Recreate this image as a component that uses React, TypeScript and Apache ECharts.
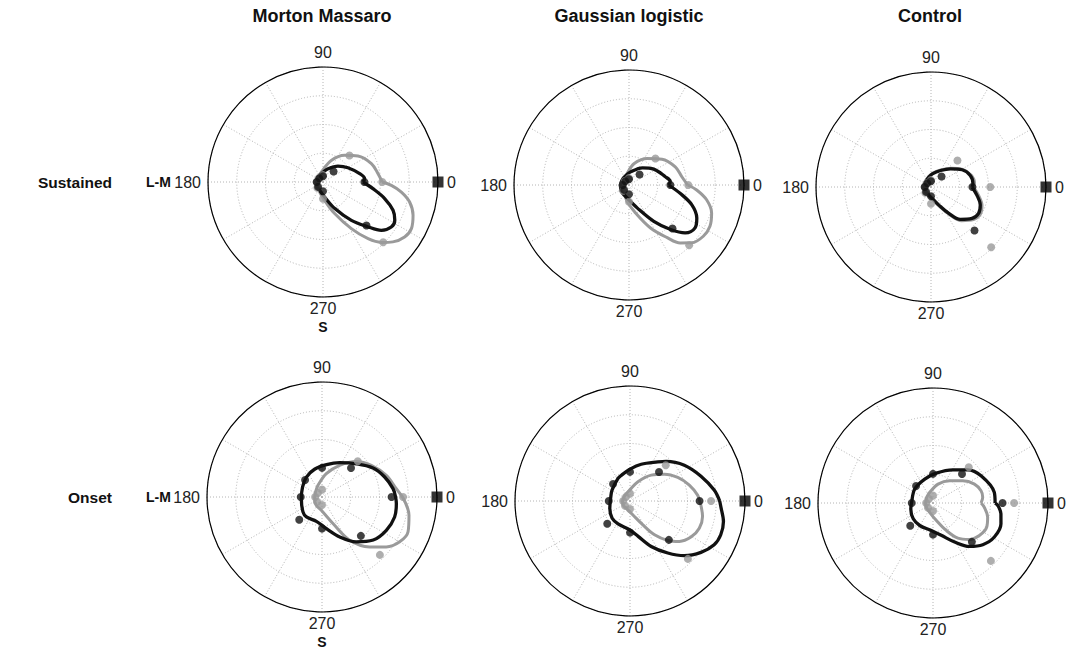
import React, { useEffect, useRef } from "react";
import * as echarts from "echarts";

// ---------- data ----------
const columnTitles = ["Morton Massaro", "Gaussian logistic", "Control"];
const rowTitles = ["Sustained", "Onset"];
const axisName = "L-M";
const axisName2 = "S";
const angleTickLabels = [0, 90, 180, 270];

const dotAngles = [0, 45, 90, 135, 180, 225, 270, 315];
const sustainedBlackDots = [0.36, 0.13, 0.05, 0.045, 0.055, 0.06, 0.08, 0.535];
const sustainedGrayDots = [0.515, 0.325, 0.06, 0.05, 0.055, 0.07, 0.145, 0.74];
const onsetBlackDots = [0.605, 0.357, 0.253, 0.208, 0.185, 0.28, 0.275, 0.478];
const onsetGrayDots = [0.705, 0.44, 0.065, 0.05, 0.06, 0.06, 0.07, 0.712];

// model curves: [angle (deg), radius]
const mmSustainedBlack = [[0, 0.348], [4.6, 0.363], [12.8, 0.327], [29.8, 0.25], [46.8, 0.19], [69, 0.124], [90, 0.085], [110, 0.07], [135, 0.062], [160, 0.06], [180, 0.06], [207, 0.065], [230, 0.07], [248, 0.078], [276, 0.131], [294, 0.253], [306.5, 0.415], [315, 0.55], [320.4, 0.659], [326.6, 0.711], [332, 0.707], [338, 0.657], [345, 0.555], [352.4, 0.438], [360, 0.348]];
const mmSustainedGray = [[0, 0.515], [8.6, 0.484], [20.8, 0.45], [36.6, 0.379], [51, 0.299], [69, 0.2], [99, 0.088], [125, 0.06], [146, 0.05], [180, 0.055], [210, 0.057], [251.6, 0.092], [275, 0.16], [290, 0.29], [301.3, 0.475], [308.5, 0.63], [314, 0.73], [319.4, 0.8], [326, 0.856], [332.2, 0.869], [339.7, 0.835], [347, 0.773], [352.7, 0.687], [357.2, 0.595], [360, 0.515]];
const glSustainedBlack = [[0, 0.345], [5, 0.36], [12.8, 0.324], [32.6, 0.256], [52, 0.19], [83, 0.115], [110, 0.085], [140, 0.075], [180, 0.075], [202, 0.077], [221, 0.088], [263, 0.116], [290, 0.214], [304.3, 0.383], [313, 0.53], [319.5, 0.642], [327, 0.685], [334, 0.656], [342.5, 0.573], [350.8, 0.45], [360, 0.345]];
const glSustainedGray = [[0, 0.51], [8.9, 0.465], [21.4, 0.432], [38, 0.364], [55.5, 0.28], [77, 0.19], [100, 0.1], [125, 0.065], [150, 0.055], [180, 0.055], [210, 0.065], [230, 0.075], [264, 0.144], [283.2, 0.25], [296.6, 0.418], [306, 0.566], [311.5, 0.672], [317.4, 0.742], [325.4, 0.785], [333, 0.79], [341.2, 0.759], [349.2, 0.687], [355.8, 0.59], [360, 0.51]];
const ctSustainedBlack = [[0, 0.356], [4.5, 0.366], [16.4, 0.356], [29, 0.309], [43, 0.232], [60, 0.166], [84, 0.115], [105, 0.085], [130, 0.068], [160, 0.062], [190, 0.062], [208, 0.062], [234, 0.064], [276.5, 0.101], [293.6, 0.172], [304, 0.277], [312.2, 0.38], [322.5, 0.449], [331, 0.473], [340, 0.456], [350, 0.405], [360, 0.356]];
const ctSustainedGray = [[0, 0.37], [5, 0.38], [16.4, 0.365], [29, 0.315], [43, 0.24], [60, 0.172], [84, 0.12], [105, 0.09], [130, 0.072], [160, 0.065], [190, 0.065], [208, 0.066], [234, 0.07], [276.5, 0.11], [293.6, 0.185], [304, 0.29], [312.2, 0.395], [322.5, 0.465], [331, 0.49], [340, 0.472], [350, 0.42], [360, 0.37]];
const mmOnsetBlack = [[0, 0.64], [6.7, 0.622], [17.7, 0.572], [29.6, 0.51], [44, 0.416], [62.8, 0.336], [82, 0.284], [105, 0.25], [128, 0.22], [153, 0.19], [184.6, 0.18], [218, 0.21], [232, 0.22], [257, 0.217], [278, 0.278], [294, 0.38], [307.3, 0.49], [320, 0.582], [332.6, 0.63], [344.6, 0.655], [355, 0.649], [360, 0.64]];
const mmOnsetGray = [[0, 0.7], [6.4, 0.65], [18.6, 0.59], [32.7, 0.51], [46, 0.43], [61, 0.315], [79.5, 0.206], [109, 0.107], [135, 0.075], [160, 0.065], [193, 0.066], [236, 0.088], [267, 0.116], [292.4, 0.25], [302.6, 0.447], [313.6, 0.6], [322.1, 0.708], [330, 0.78], [338, 0.807], [348.1, 0.773], [360, 0.7]];
const glOnsetBlack = [[0, 0.78], [7.4, 0.738], [19.3, 0.654], [33.4, 0.566], [47.7, 0.467], [54.6, 0.417], [73, 0.334], [90, 0.277], [108, 0.237], [118, 0.222], [148.6, 0.183], [167, 0.171], [200, 0.187], [224, 0.216], [242.4, 0.224], [269, 0.25], [283, 0.316], [295, 0.436], [306, 0.559], [314.8, 0.67], [324.1, 0.762], [332.5, 0.825], [339.6, 0.842], [347.6, 0.832], [356.5, 0.791], [360, 0.78]];
const glOnsetGray = [[0, 0.605], [5, 0.59], [15, 0.534], [26.2, 0.463], [37.9, 0.38], [50.6, 0.291], [67.5, 0.181], [92, 0.095], [120, 0.07], [150, 0.062], [180, 0.065], [210, 0.07], [243, 0.071], [282, 0.124], [298.4, 0.236], [306, 0.363], [313.8, 0.475], [320.7, 0.555], [329.4, 0.616], [338.6, 0.647], [348, 0.645], [356.8, 0.617], [360, 0.605]];
const ctOnsetBlack = [[0, 0.54], [9.8, 0.541], [29.5, 0.48], [43.6, 0.418], [59, 0.336], [83.7, 0.261], [109, 0.22], [142.6, 0.2], [180, 0.187], [195, 0.2], [218.7, 0.22], [239.5, 0.227], [266.5, 0.24], [284.3, 0.29], [299, 0.388], [310, 0.493], [320, 0.565], [331, 0.61], [343, 0.618], [351, 0.598], [357.7, 0.565], [360, 0.54]];
const ctOnsetGray = [[0, 0.418], [6.5, 0.435], [14.3, 0.431], [24.5, 0.396], [36.7, 0.323], [53, 0.241], [75, 0.17], [107, 0.097], [135, 0.075], [165, 0.065], [190, 0.065], [213, 0.069], [250, 0.086], [281, 0.155], [295.7, 0.265], [305.3, 0.374], [315, 0.448], [325, 0.492], [335.7, 0.512], [345.4, 0.491], [355.2, 0.448], [360, 0.418]];

// ---------- layout ----------
const FONT = "'Liberation Sans', Arial, Helvetica, sans-serif";
const GRAY = "#9a9a9a";
const BLACK = "#111111";

const panels = [
  { center: [323, 182], radius: 115, black: mmSustainedBlack, gray: mmSustainedGray, bDots: sustainedBlackDots, gDots: sustainedGrayDots },
  { center: [629, 185], radius: 115, black: glSustainedBlack, gray: glSustainedGray, bDots: sustainedBlackDots, gDots: sustainedGrayDots },
  { center: [931, 187], radius: 115, black: ctSustainedBlack, gray: ctSustainedGray, bDots: sustainedBlackDots, gDots: sustainedGrayDots },
  { center: [322, 497], radius: 115, black: mmOnsetBlack, gray: mmOnsetGray, bDots: onsetBlackDots, gDots: onsetGrayDots },
  { center: [630, 501], radius: 115, black: glOnsetBlack, gray: glOnsetGray, bDots: onsetBlackDots, gDots: onsetGrayDots },
  { center: [933, 503], radius: 115, black: ctOnsetBlack, gray: ctOnsetGray, bDots: onsetBlackDots, gDots: onsetGrayDots },
];

const tickTextStyle = { fontSize: 16, fontFamily: FONT, color: "#222" };

function buildOption() {
  const polar = panels.map((p) => ({ center: p.center, radius: p.radius }));
  const angleAxis = panels.map((_, i) => ({
    polarIndex: i,
    type: "value",
    min: 0,
    max: 360,
    interval: 30,
    startAngle: 0,
    clockwise: false,
    axisLine: { show: true, lineStyle: { color: "#000", width: 1.2 } },
    axisTick: { show: false },
    axisLabel: {
      show: true,
      margin: 3,
      ...tickTextStyle,
      formatter: (v: number) => {
        if (angleTickLabels.indexOf(v) < 0) return "";
        if (v === 0) return "{r|0}";
        if (v === 90) return "{t|90}";
        if (v === 180) return "{l|180}";
        return "{b|270}";
      },
      rich: {
        r: { ...tickTextStyle, padding: [0, 0, 0, 6] },
        t: { ...tickTextStyle, padding: [0, 0, 4, 0] },
        l: { ...tickTextStyle, padding: [0, 4, 0, 0] },
        b: { ...tickTextStyle, padding: [0, 0, 0, 0] },
      },
    },
    splitLine: { show: true, lineStyle: { color: "#b4b4b4", width: 1, type: [1, 2] } },
  }));
  const radiusAxis = panels.map((_, i) => ({
    polarIndex: i,
    type: "value",
    min: 0,
    max: 1,
    interval: 0.25,
    axisLine: { show: false },
    axisTick: { show: false },
    axisLabel: { show: false },
    splitLine: { show: true, lineStyle: { color: "#b4b4b4", width: 1, type: [1, 2] } },
  }));

  const series: any[] = [];
  panels.forEach((p, i) => {
    series.push({
      type: "line",
      coordinateSystem: "polar",
      polarIndex: i,
      data: p.gray.map(([a, r]) => [r, a]),
      smooth: 0.35,
      showSymbol: false,
      lineStyle: { color: GRAY, width: 3 },
      z: 2,
    });
    series.push({
      type: "line",
      coordinateSystem: "polar",
      polarIndex: i,
      data: p.black.map(([a, r]) => [r, a]),
      smooth: 0.35,
      showSymbol: false,
      lineStyle: { color: BLACK, width: 3.3 },
      z: 3,
    });
    series.push({
      type: "scatter",
      coordinateSystem: "polar",
      polarIndex: i,
      data: p.gDots.map((r, k) => [r, dotAngles[k]]),
      symbol: "circle",
      symbolSize: 8,
      itemStyle: { color: GRAY },
      z: 4,
    });
    series.push({
      type: "scatter",
      coordinateSystem: "polar",
      polarIndex: i,
      data: p.bDots.map((r, k) => [r, dotAngles[k]]),
      symbol: "circle",
      symbolSize: 8,
      itemStyle: { color: BLACK },
      z: 5,
    });
    series.push({
      type: "scatter",
      coordinateSystem: "polar",
      polarIndex: i,
      data: [[1, 0]],
      symbol: "rect",
      symbolSize: 11,
      itemStyle: { color: "#000" },
      z: 6,
    });
  });

  const boldText = (text: string, x: number, y: number, size: number, align: string) => ({
    type: "text",
    x,
    y,
    style: { text, fill: "#111", font: `bold ${size}px ${FONT}`, textAlign: align, textVerticalAlign: "middle" },
  });

  const graphic = [
    boldText(columnTitles[0], 322, 16, 18, "center"),
    boldText(columnTitles[1], 629, 16, 18, "center"),
    boldText(columnTitles[2], 930, 16, 18, "center"),
    boldText(rowTitles[0], 112, 182, 15.5, "right"),
    boldText(rowTitles[1], 112, 497, 15.5, "right"),
    boldText(axisName, 146, 182, 14, "left"),
    boldText(axisName, 146, 497, 14, "left"),
    boldText(axisName2, 323, 327, 14, "center"),
    boldText(axisName2, 322, 642, 14, "center"),
  ];

  return {
    animation: false,
    backgroundColor: "#fff",
    polar,
    angleAxis,
    radiusAxis,
    series,
    graphic,
  };
}

export default function App() {
  const ref = useRef<HTMLDivElement>(null);
  useEffect(() => {
    if (!ref.current) return;
    const chart = echarts.init(ref.current, undefined, { renderer: "svg" });
    chart.setOption(buildOption() as any);
    return () => chart.dispose();
  }, []);
  return (
    <div
      ref={ref}
      style={{ position: "fixed", left: 0, top: 0, width: 1069, height: 656, background: "#fff" }}
    />
  );
}
